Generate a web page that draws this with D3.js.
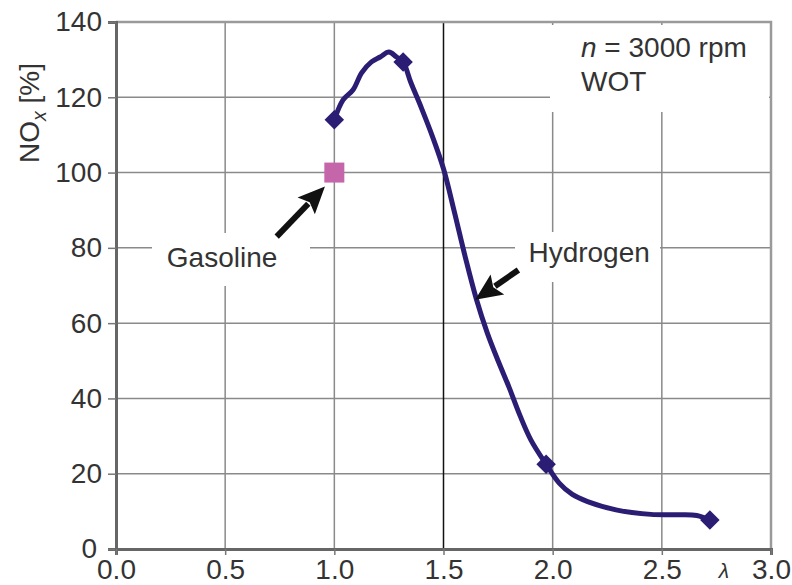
<!DOCTYPE html>
<html>
<head>
<meta charset="utf-8">
<script src="https://cdn.jsdelivr.net/npm/d3@7"></script>
<style>
  html, body { margin: 0; padding: 0; background: #fff; }
  svg { display: block; }
  text { font-family: "Liberation Sans", Arial, Helvetica, sans-serif; fill: #333; }
</style>
</head>
<body>
<svg id="chart" width="792" height="585"></svg>
<script>
// ---------------- data ----------------
const xTickValues = [0.0, 0.5, 1.0, 1.5, 2.0, 2.5, 3.0];
const xTickLabels = ["0.0", "0.5", "1.0", "1.5", "2.0", "2.5", "3.0"];
const yTickValues = [0, 20, 40, 60, 80, 100, 120, 140];
const yTickLabels = ["0", "20", "40", "60", "80", "100", "120", "140"];

// hydrogen curve (lambda, NOx %)
const hydrogenLambda = [1.00, 1.04, 1.086, 1.125, 1.17, 1.21, 1.25, 1.285, 1.315, 1.35, 1.40, 1.45, 1.50, 1.55, 1.60, 1.65, 1.70, 1.75, 1.80, 1.85, 1.90, 1.97, 2.03, 2.09, 2.16, 2.29, 2.45, 2.58, 2.66, 2.72];
const hydrogenNOx    = [114, 119.3, 122, 126.5, 129.4, 130.7, 132, 130.7, 129.4, 124, 117, 109.5, 101, 89.5, 77.5, 66.5, 57.5, 50, 43, 35.5, 29, 22.5, 17.5, 14.5, 12.6, 10.4, 9.2, 9.1, 8.9, 7.7];
// measured points with diamond markers
const markerLambda = [1.00, 1.315, 1.97, 2.72];
const markerNOx    = [114, 129.4, 22.5, 7.7];
// gasoline reference point
const gasolineLambda = [1.0];
const gasolineNOx    = [100];

// annotations (data coordinates)
const arrowGasoline = { from: [0.736, 83.0], to: [0.957, 96.3] };
const arrowHydrogen = { from: [1.843, 74.1], to: [1.645, 66.2] };

// ---------------- layout ----------------
const svg = d3.select("#chart");
const x = d3.scaleLinear().domain([0, 3]).range([116, 771]);
const y = d3.scaleLinear().domain([0, 140]).range([549, 22]);
const FS = 28;
const lineColor = "#2b1d74";

// gridlines
const grid = svg.append("g");
grid.selectAll("line.h").data(yTickValues.filter(v => v > 0 && v < 140)).join("line")
  .attr("x1", x(0)).attr("x2", x(3))
  .attr("y1", d => y(d)).attr("y2", d => y(d))
  .attr("stroke", "#8a8a8a").attr("stroke-width", 1.5);
grid.selectAll("line.v").data(xTickValues.filter(v => v > 0 && v < 3)).join("line")
  .attr("x1", d => x(d)).attr("x2", d => x(d))
  .attr("y1", y(0)).attr("y2", y(140))
  .attr("stroke", d => d === 1.5 ? "#111" : "#8a8a8a").attr("stroke-width", 1.5);

// white boxes behind labels
const boxes = [
  [550, 25, 219, 87],
  [152, 233, 158, 53],
  [515, 232, 145, 50]
];
svg.append("g").selectAll("rect").data(boxes).join("rect")
  .attr("x", d => d[0]).attr("y", d => d[1]).attr("width", d => d[2]).attr("height", d => d[3])
  .attr("fill", "#fff");

// frame top/right
svg.append("path")
  .attr("d", `M${x(0)},${y(140)}H${x(3)}V${y(0)}`)
  .attr("fill", "none").attr("stroke", "#9a9a9a").attr("stroke-width", 2.5);

// axes
const yAxis = d3.axisLeft(y).tickValues(yTickValues).tickFormat((d, i) => yTickLabels[i]).tickSize(8).tickPadding(6);
const xAxis = d3.axisBottom(x).tickValues(xTickValues).tickFormat((d, i) => xTickLabels[i]).tickSize(6).tickPadding(4);
const gy = svg.append("g").attr("transform", `translate(${x(0)},0)`).call(yAxis);
const gx = svg.append("g").attr("transform", `translate(0,${y(0)})`).call(xAxis);
[gx, gy].forEach(g => {
  g.select(".domain").attr("stroke", "#666").attr("stroke-width", 3);
  g.selectAll(".tick line").attr("stroke", "#777").attr("stroke-width", 1.5);
  g.selectAll(".tick text").style("font-size", FS + "px").attr("fill", "#333");
});
gy.select(".tick text").attr("dy", "0.3em").attr("dx", -5);

// hydrogen curve
const pts = hydrogenLambda.map((l, i) => [l, hydrogenNOx[i]]);
svg.append("path")
  .datum(pts)
  .attr("d", d3.line().x(d => x(d[0])).y(d => y(d[1])).curve(d3.curveCatmullRom.alpha(0.5)))
  .attr("fill", "none").attr("stroke", lineColor).attr("stroke-width", 5)
  .attr("stroke-linejoin", "round").attr("stroke-linecap", "round");

// diamonds
const diamond = d3.symbol().type(d3.symbolSquare).size(190);
svg.append("g").selectAll("path").data(markerLambda.map((l, i) => [l, markerNOx[i]])).join("path")
  .attr("d", diamond)
  .attr("transform", d => `translate(${x(d[0])},${y(d[1])}) rotate(45)`)
  .attr("fill", lineColor);

// gasoline square
svg.append("g").selectAll("rect").data(gasolineLambda.map((l, i) => [l, gasolineNOx[i]])).join("rect")
  .attr("x", d => x(d[0]) - 10).attr("y", d => y(d[1]) - 10)
  .attr("width", 20).attr("height", 20)
  .attr("fill", "#c566ab");

// arrows
function drawArrow(a) {
  const x1 = x(a.from[0]), y1 = y(a.from[1]), x2 = x(a.to[0]), y2 = y(a.to[1]);
  const ang = Math.atan2(y2 - y1, x2 - x1);
  const L = 27, W = 12;
  const bx = x2 - L * Math.cos(ang), by = y2 - L * Math.sin(ang);
  svg.append("line").attr("x1", x1).attr("y1", y1).attr("x2", bx + 3 * Math.cos(ang)).attr("y2", by + 3 * Math.sin(ang))
    .attr("stroke", "#111").attr("stroke-width", 6);
  const px = -Math.sin(ang), py = Math.cos(ang);
  svg.append("path")
    .attr("d", `M${x2},${y2}L${bx + W * px},${by + W * py}L${bx + 5 * Math.cos(ang)},${by + 5 * Math.sin(ang)}L${bx - W * px},${by - W * py}Z`)
    .attr("fill", "#111");
}
drawArrow(arrowGasoline);
drawArrow(arrowHydrogen);

// labels
svg.append("text").attr("x", x(0.486)).attr("y", y(74.9)).attr("text-anchor", "middle")
  .style("font-size", FS + "px").text("Gasoline");
svg.append("text").attr("x", x(2.167)).attr("y", y(76.3)).attr("text-anchor", "middle")
  .style("font-size", FS + "px").text("Hydrogen");

const t1 = svg.append("text").attr("x", 581).attr("y", 57).style("font-size", FS + "px");
t1.append("tspan").style("font-style", "italic").text("n");
t1.append("tspan").text(" = 3000 rpm");
svg.append("text").attr("x", 581).attr("y", 91).style("font-size", FS + "px").text("WOT");

// y axis title
const yt = svg.append("text").attr("transform", "translate(39,113) rotate(-90)")
  .attr("text-anchor", "middle").style("font-size", FS + "px");
yt.append("tspan").text("NO");
yt.append("tspan").attr("dy", 7).style("font-size", (FS * 0.7) + "px").style("font-style", "italic").text("x");
yt.append("tspan").attr("dy", -7).text(" [%]");

// x axis title
svg.append("text").attr("x", 724).attr("y", 578).attr("text-anchor", "middle")
  .style("font-size", "21px").style("font-style", "italic").text("λ");
</script>
</body>
</html>
